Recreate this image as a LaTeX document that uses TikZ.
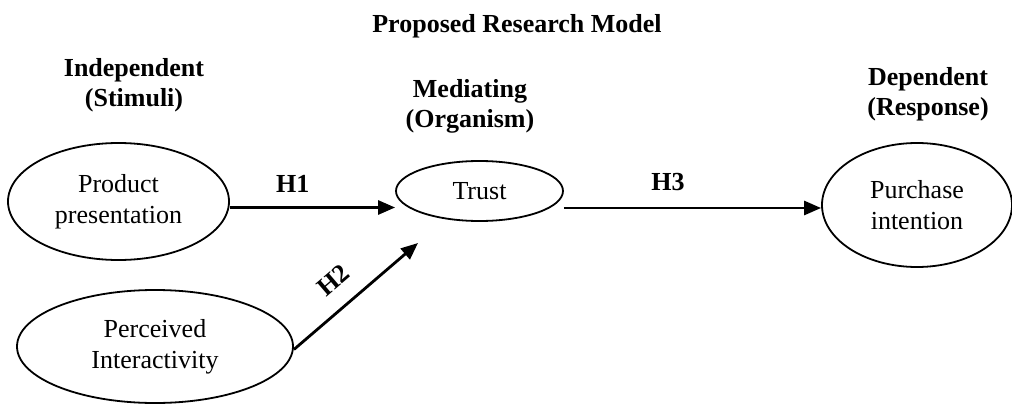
\documentclass[tikz,border=0pt]{standalone}
\usepackage{fontspec}
\setmainfont{Liberation Serif}
\usetikzlibrary{shapes.geometric,arrows.meta}
\begin{document}
\begin{tikzpicture}[x=1pt,y=-1pt,
  oval/.style={ellipse,draw,line width=1.8pt,inner sep=0pt,align=center,font=\fontsize{26}{31}\selectfont},
  head/.style={align=center,inner sep=0pt,font=\fontsize{26}{30}\selectfont\bfseries},
  link/.style={line width=2.8pt,-{Triangle[length=17pt,width=14pt]}},
  hyp/.style={inner sep=0pt,font=\fontsize{26}{30}\selectfont\bfseries}]
\useasboundingbox (0,0) rectangle (1012,404);
\clip (0,0) rectangle (1012,404);
\node[head] (title) at (517,26) {Proposed Research Model};
\node[head] (indep) at (134,85) {Independent\\(Stimuli)};
\node[head] (medi) at (470,106) {Mediating\\(Organism)};
\node[head] (dep) at (928,94) {Dependent\\(Response)};
\node[oval,minimum width=221pt,minimum height=117pt] (prod) at (118.5,201.5) {Product\\presentation};
\node[oval,minimum width=276pt,minimum height=113pt] (per) at (155,346.5) {Perceived\\Interactivity};
\node[oval,minimum width=167pt,minimum height=60pt] (trust) at (479.5,191) {Trust};
\node[oval,minimum width=190pt,minimum height=124pt] (purch) at (917,205) {Purchase\\intention};
\coordinate (h2end) at (418,243);
\draw[link] ([yshift=-6pt]prod.east) -- ([yshift=-6pt]prod.east -| trust.west)
  node[hyp,pos=0.38,above=14pt] (h1) {H1};
\draw[link] ([yshift=-17pt]trust.east) -- ([yshift=-17pt]trust.east -| purch.west)
  node[hyp,pos=0.405,above=16pt] (h3) {H3};
\draw[link] ([yshift=-3pt]per.east) -- (h2end)
  node[hyp,pos=0.46,sloped,above=17pt] (h2) {H2};
\end{tikzpicture}
\end{document}
